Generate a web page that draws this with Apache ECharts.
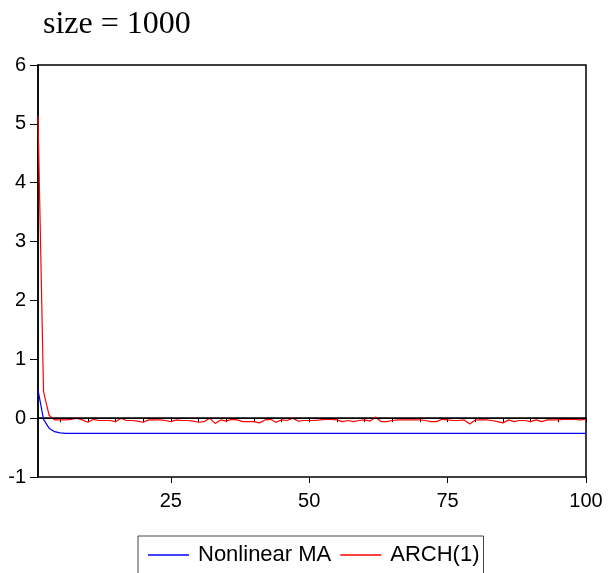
<!DOCTYPE html>
<html>
<head>
<meta charset="utf-8">
<script src="https://cdn.jsdelivr.net/npm/echarts@6/dist/echarts.min.js"></script>
<style>html,body{margin:0;padding:0;background:#fff;}#c{width:608px;height:573px;}</style>
</head>
<body>
<div id="c"></div>
<script>
const titleText = 'size = 1000';
const seriesNames = ['Nonlinear MA', 'ARCH(1)'];
const xMin = 1, xMax = 100;
const xLabelTicks = [25, 50, 75, 100];
const xMinorTicks = [5,10,15,20,25,30,35,40,45,50,55,60,65,70,75,80,85,90,95,100];
const nonlinearMA = [0.48,-0.02,-0.17,-0.23,-0.25,-0.26,-0.26,-0.26,-0.26,-0.26,
 -0.26,-0.26,-0.26,-0.26,-0.26,-0.26,-0.26,-0.26,-0.26,-0.26,
 -0.26,-0.26,-0.26,-0.26,-0.26,-0.26,-0.26,-0.26,-0.26,-0.26,
 -0.26,-0.26,-0.26,-0.26,-0.26,-0.26,-0.26,-0.26,-0.26,-0.26,
 -0.26,-0.26,-0.26,-0.26,-0.26,-0.26,-0.26,-0.26,-0.26,-0.26,
 -0.26,-0.26,-0.26,-0.26,-0.26,-0.26,-0.26,-0.26,-0.26,-0.26,
 -0.26,-0.26,-0.26,-0.26,-0.26,-0.26,-0.26,-0.26,-0.26,-0.26,
 -0.26,-0.26,-0.26,-0.26,-0.26,-0.26,-0.26,-0.26,-0.26,-0.26,
 -0.26,-0.26,-0.26,-0.26,-0.26,-0.26,-0.26,-0.26,-0.26,-0.26,
 -0.26,-0.26,-0.26,-0.26,-0.26,-0.26,-0.26,-0.26,-0.26,-0.26];
const arch1 = [5.13,0.45,0.05,-0.03,-0.03,-0.03,-0.02,0.0,-0.03,-0.07,
 -0.02,-0.04,-0.04,-0.04,-0.06,0.0,-0.04,-0.04,-0.05,-0.07,
 -0.03,-0.03,-0.03,-0.04,-0.06,-0.03,-0.04,-0.04,-0.05,-0.07,
 -0.06,0.0,-0.09,-0.03,-0.05,-0.02,-0.03,-0.06,-0.06,-0.06,
 -0.08,-0.03,-0.02,-0.07,-0.03,-0.04,0.0,-0.05,-0.04,-0.04,
 -0.04,-0.03,-0.02,-0.02,-0.03,-0.06,-0.04,-0.06,-0.04,-0.03,
 -0.05,0.02,-0.06,-0.06,-0.04,-0.03,-0.03,-0.03,-0.03,-0.03,
 -0.04,-0.06,-0.06,-0.02,-0.03,-0.04,-0.04,-0.03,-0.10,-0.03,
 -0.03,-0.03,-0.04,-0.06,-0.08,-0.03,-0.06,-0.04,-0.04,-0.06,
 -0.03,-0.06,-0.03,-0.03,-0.03,-0.02,-0.02,-0.02,-0.03,-0.02];

const pairs = arr => arr.map((v, i) => [xMin + i, v]);
const F = '"Liberation Sans", Arial, sans-serif';

const chart = echarts.init(document.getElementById('c'), null, {renderer: 'canvas'});
chart.setOption({
  animation: false,
  backgroundColor: '#fff',
  graphic: [{
    type: 'text', left: 43, top: 9,
    style: {text: titleText, font: '32px "Liberation Serif", "Times New Roman", serif', fill: '#000'}
  }],
  grid: {left: 38, right: 22, top: 65, bottom: 96, show: true, borderColor: '#000', borderWidth: 1.5, containLabel: false},
  legend: {
    left: 138, top: 536,
    data: seriesNames.map(n => ({name: n, icon: 'rect'})),
    itemWidth: 41, itemHeight: 1.5, itemGap: 9,
    padding: [8, 4, 8, 10],
    borderColor: '#444', borderWidth: 1,
    textStyle: {fontFamily: F, fontSize: 22, color: '#000', padding: [0, 0, 0, 4]}
  },
  xAxis: [{
    type: 'value', min: xMin, max: xMax,
    axisLine: {show: true, lineStyle: {color: '#000', width: 1.5}},
    axisTick: {show: true, customValues: xMinorTicks, length: 4, inside: false, lineStyle: {color: '#000', width: 1}},
    axisLabel: {show: false},
    splitLine: {show: false}
  }, {
    type: 'value', min: xMin, max: xMax, position: 'bottom',
    axisLine: {show: false},
    axisTick: {show: true, customValues: xLabelTicks, length: 6, lineStyle: {color: '#000', width: 1}},
    axisLabel: {show: true, customValues: xLabelTicks, margin: 14, fontFamily: F, fontSize: 20, color: '#000'},
    splitLine: {show: false}
  }],
  yAxis: {
    type: 'value', min: -1, max: 6, interval: 1,
    axisLine: {show: true, lineStyle: {color: '#000', width: 1.5}},
    axisTick: {show: true, length: 8, lineStyle: {color: '#000', width: 1}},
    axisLabel: {margin: 12, fontFamily: F, fontSize: 20, color: '#000'},
    splitLine: {show: false}
  },
  series: [{
    name: seriesNames[0], type: 'line', xAxisIndex: 0, data: pairs(nonlinearMA),
    symbol: 'none', lineStyle: {color: '#0000ff', width: 1.2}, itemStyle: {color: '#0000ff'}
  }, {
    name: seriesNames[1], type: 'line', xAxisIndex: 0, data: pairs(arch1),
    symbol: 'none', lineStyle: {color: '#ff0000', width: 1.2}, itemStyle: {color: '#ff0000'},
    markLine: {silent: true, symbol: 'none', label: {show: false},
      lineStyle: {color: '#000', width: 1.2, type: 'solid'}, data: [{yAxis: 0}]}
  }]
});
</script>
</body>
</html>
